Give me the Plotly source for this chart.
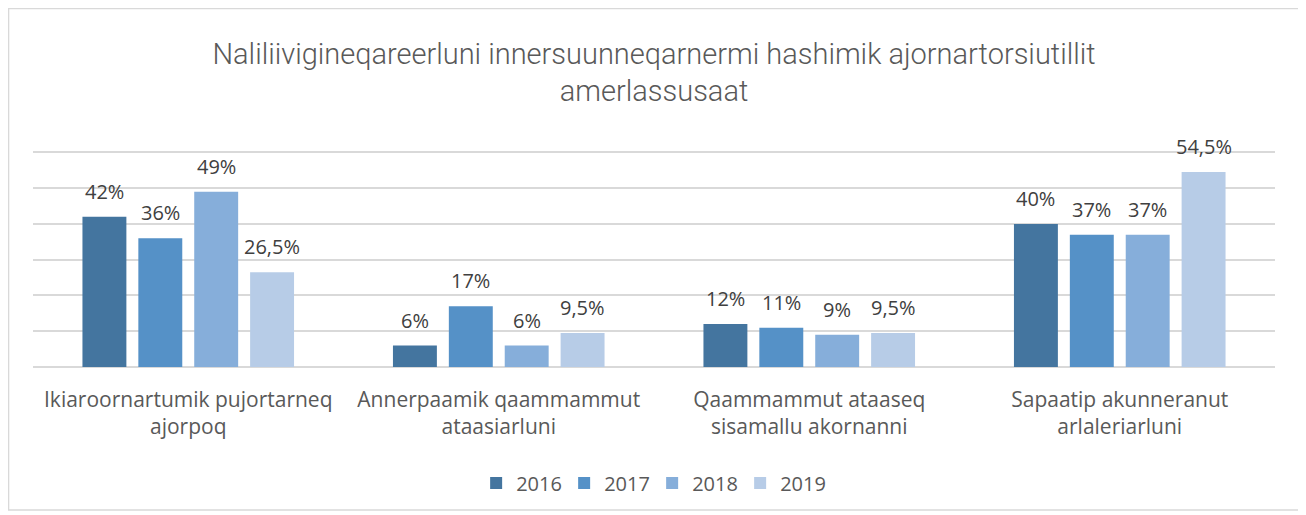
import plotly.graph_objects as go

categories = ["Ikiaroornartumik pujortarneq<br>ajorpoq",
              "Annerpaamik qaammammut<br>ataasiarluni",
              "Qaammammut ataaseq<br>sisamallu akornanni",
              "Sapaatip akunneranut<br>arlaleriarluni"]
years = ["2016", "2017", "2018", "2019"]
values = {
    "2016": [42, 6, 12, 40],
    "2017": [36, 17, 11, 37],
    "2018": [49, 6, 9, 37],
    "2019": [26.5, 9.5, 9.5, 54.5],
}
labels = {
    "2016": ["42%", "6%", "12%", "40%"],
    "2017": ["36%", "17%", "11%", "37%"],
    "2018": ["49%", "6%", "9%", "37%"],
    "2019": ["26,5%", "9,5%", "9,5%", "54,5%"],
}
colors = ["#44759F", "#5591C7", "#86AEDA", "#B7CCE7"]
title = "Naliliivigineqareerluni innersuunneqarnermi hashimik ajornartorsiutillit<br>amerlassusaat"

fig = go.Figure()
for i, y in enumerate(years):
    fig.add_trace(go.Bar(x=categories, y=values[y], name=y,
                         marker=dict(color=colors[i], line=dict(width=0))))

slot = 56
for i, y in enumerate(years):
    for c, v, t in zip(categories, values[y], labels[y]):
        fig.add_annotation(x=c, y=v, text=t, showarrow=False, xref="x", yref="y",
                           yanchor="bottom", xshift=(i - 1.5) * slot, yshift=10,
                           font=dict(family="Open Sans", size=20, color="#404040"))

fig.add_shape(type="rect", xref="paper", yref="paper",
              x0=-0.0197, x1=1.0217, y0=-0.65, y1=1.63,
              line=dict(color="#D9D9D9", width=1.5), fillcolor="rgba(0,0,0,0)", layer="below")

fig.update_layout(
    width=1298, height=507,
    margin=dict(l=25, r=31, t=139, b=148),
    paper_bgcolor="white", plot_bgcolor="white",
    barmode="group", bargap=0.28, bargroupgap=0.214,
    title=dict(text=title, x=0.5, xref="paper", xanchor="center",
               yref="container", y=0.89, yanchor="middle",
               font=dict(family="Roboto", weight=300, size=29, color="#595959")),
    xaxis=dict(showgrid=False, showline=False, ticks="", ticklabelstandoff=18,
               tickfont=dict(family="Open Sans", size=21, color="#595959")),
    yaxis=dict(range=[0, 61.5], dtick=10, showticklabels=False, showgrid=True,
               gridcolor="#D9D9D9", gridwidth=1.5, zeroline=True,
               zerolinecolor="#D9D9D9", zerolinewidth=1.5, fixedrange=True),
    legend=dict(orientation="h", x=0.4985, xanchor="center", y=-0.527, yanchor="middle",
                font=dict(family="Open Sans", size=20, color="#595959"),
                itemwidth=30, entrywidth=43, entrywidthmode="pixels",
                traceorder="normal"),
    showlegend=True,
)
fig.write_html("out.html")
